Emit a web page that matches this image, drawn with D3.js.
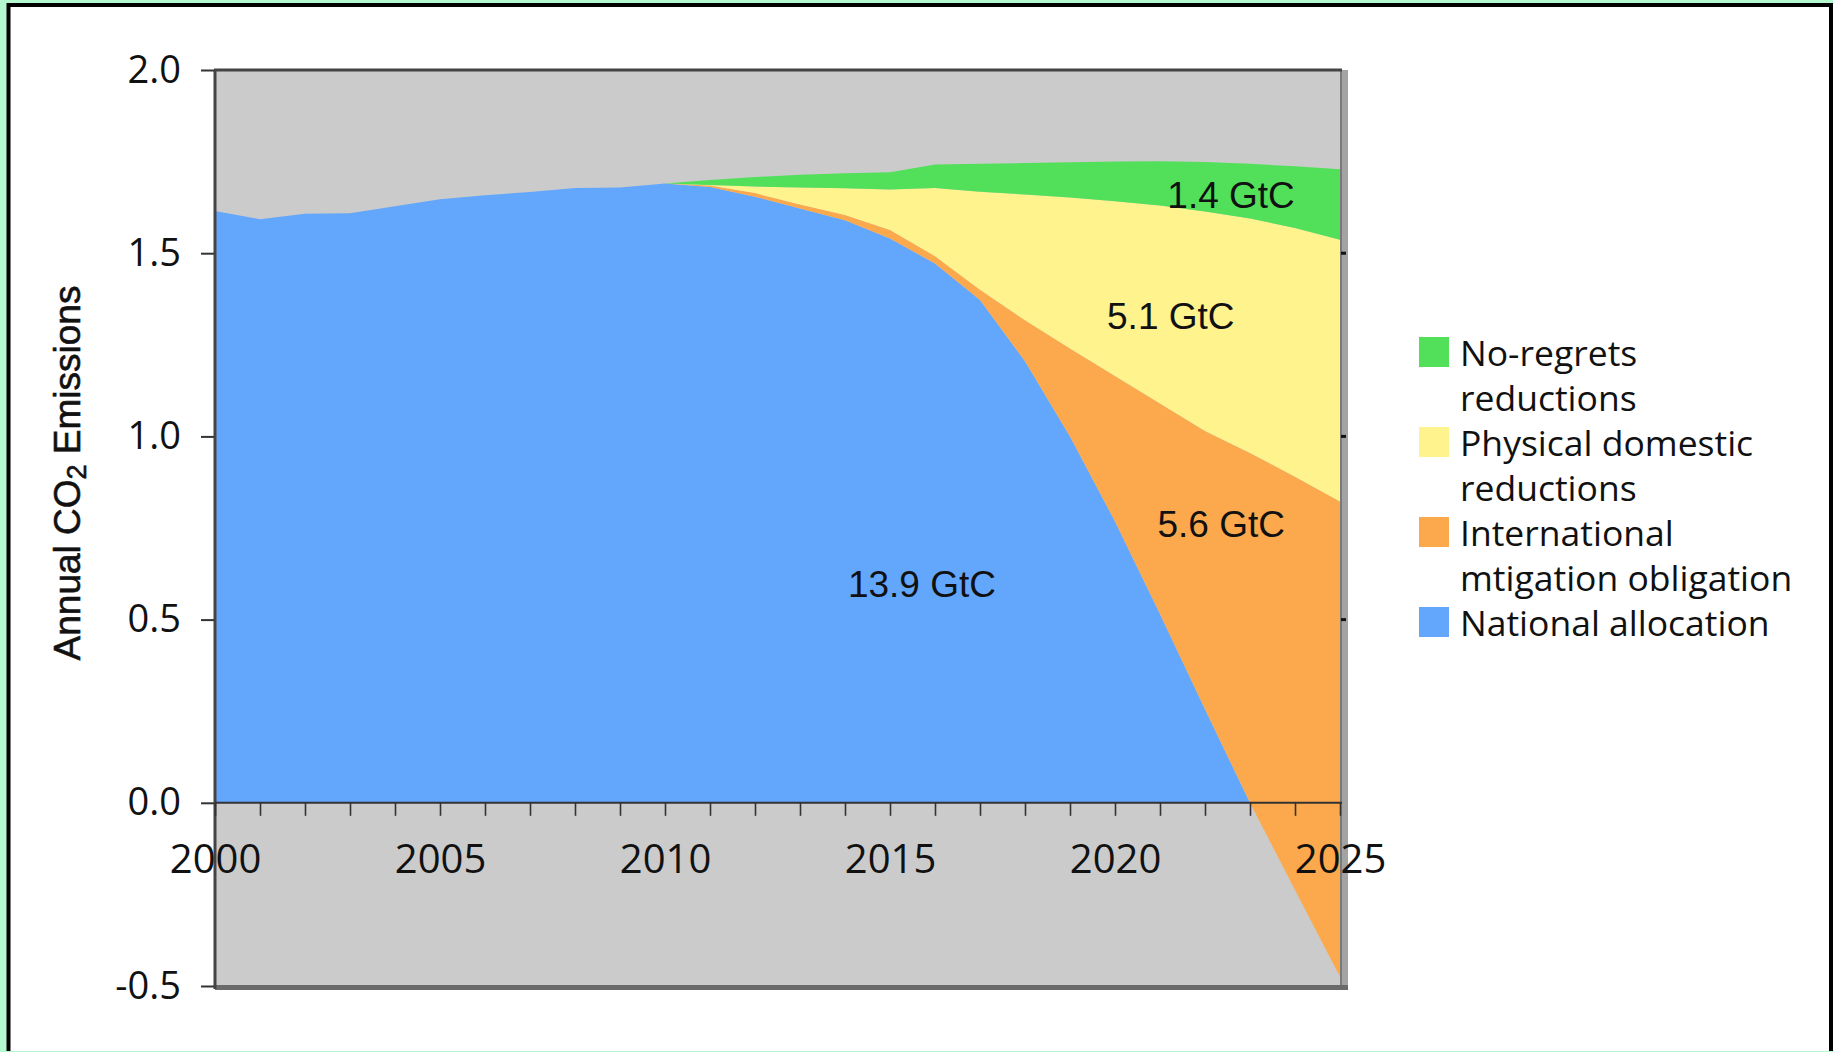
<!DOCTYPE html>
<html>
<head>
<meta charset="utf-8">
<script src="https://cdn.jsdelivr.net/npm/d3@7"></script>
<style>
  html, body { margin: 0; padding: 0; background: #b4f8d0; }
  #chart { width: 1833px; height: 1052px; }
</style>
</head>
<body>
<div id="chart"></div>
<script>
// Years on the x axis
const years = d3.range(2000, 2026);

// National allocation (GtC/yr) - goes negative after 2023
const national = [1.615, 1.593, 1.608, 1.609, 1.628, 1.647, 1.658, 1.667, 1.678, 1.679,
                  1.690, 1.681, 1.654, 1.622, 1.590, 1.540, 1.472, 1.372, 1.205, 1.000,
                  0.768, 0.515, 0.255, 0.000, -0.238, -0.475];

// International mitigation obligation (band above national)
const international = [0, 0, 0, 0, 0, 0, 0, 0, 0, 0,
                       0, 0.004, 0.010, 0.011, 0.014, 0.023, 0.020, 0.028, 0.112, 0.240,
                       0.397, 0.575, 0.760, 0.955, 1.128, 1.297];

// Physical domestic reductions
const physical = [0, 0, 0, 0, 0, 0, 0, 0, 0, 0,
                  0, 0.001, 0.018, 0.046, 0.073, 0.111, 0.186, 0.268, 0.343, 0.412,
                  0.477, 0.540, 0.599, 0.640, 0.679, 0.715];

// No-regrets reductions
const noRegrets = [0, 0, 0, 0, 0, 0, 0, 0, 0, 0,
                   0, 0.014, 0.026, 0.035, 0.041, 0.047, 0.064, 0.076, 0.086, 0.096,
                   0.108, 0.121, 0.135, 0.149, 0.168, 0.192];

const yTicks = [-0.5, 0.0, 0.5, 1.0, 1.5, 2.0];

const legendItems = [
    { lines: ["No-regrets", "reductions"], color: "#52e05a" },
    { lines: ["Physical domestic", "reductions"], color: "#fff38d" },
    { lines: ["International", "mtigation obligation"], color: "#fba94c" },
    { lines: ["National allocation"], color: "#63a7fd" }
];

const bandLabels = [
    { text: "1.4 GtC", year: 2022.58, value: 1.623 },
    { text: "5.1 GtC", year: 2021.24, value: 1.293 },
    { text: "5.6 GtC", year: 2022.36, value: 0.726 },
    { text: "13.9 GtC", year: 2015.71, value: 0.562 }
];

function drawChart() {
    const width = 1833, height = 1052;

    const colors = {
        plotBg: "#cbcbcb",
        national: "#63a7fd",
        international: "#fba94c",
        physical: "#fff38d",
        noRegrets: "#52e05a",
        axis: "#333"
    };

    const svg = d3.select("#chart").append("svg")
        .attr("width", width)
        .attr("height", height)
        .attr("viewBox", `0 0 ${width} ${height}`);

    // Outer frame: mint background, white panel with black edges
    svg.append("rect")
        .attr("width", width).attr("height", height)
        .style("fill", "#b4f8d0");
    svg.append("rect")
        .attr("x", 9).attr("y", 5)
        .attr("width", width - 9).attr("height", height - 6)
        .style("fill", "#fff");
    svg.append("path")
        .attr("d", `M8.5,${height - 1}V5H${width - 2}V${height - 1}`)
        .style("fill", "none")
        .style("stroke", "#000")
        .style("stroke-width", 4);

    const x = d3.scaleLinear().domain([2000, 2025]).range([215, 1340]);
    const y = d3.scaleLinear().domain([-0.5, 2.0]).range([986, 70]);

    // stacked tops
    const rows = years.map((yr, i) => {
        const nat = national[i];
        const t1 = nat + international[i];
        const t2 = t1 + physical[i];
        const t3 = t2 + noRegrets[i];
        return { year: yr, nat, t1, t2, t3 };
    });

    const plot = svg.append("g");

    plot.append("rect")
        .attr("x", x(2000)).attr("y", y(2.0))
        .attr("width", x(2025) - x(2000))
        .attr("height", y(-0.5) - y(2.0))
        .style("fill", colors.plotBg);

    const area = (lo, hi) => d3.area()
        .x(d => x(d.year))
        .y0(d => y(lo(d)))
        .y1(d => y(hi(d)));

    plot.append("path").datum(rows)
        .attr("d", area(() => 0, d => Math.max(0, d.nat)))
        .style("fill", colors.national);

    plot.append("path").datum(rows)
        .attr("d", area(d => d.nat, d => d.t1))
        .style("fill", colors.international);

    plot.append("path").datum(rows)
        .attr("d", area(d => d.t1, d => d.t2))
        .style("fill", colors.physical);

    plot.append("path").datum(rows)
        .attr("d", area(d => d.t2, d => d.t3))
        .style("fill", colors.noRegrets);

    // Plot border with a grey shadow on right / bottom
    plot.append("rect")
        .attr("x", x(2025)).attr("y", y(2.0))
        .attr("width", 8).attr("height", y(-0.5) - y(2.0) + 4)
        .style("fill", "#a3a3a3");
    plot.append("line")
        .attr("x1", x(2025) + 1).attr("x2", x(2025) + 1)
        .attr("y1", y(2.0)).attr("y2", y(-0.5))
        .style("stroke", "#7a7a7a").style("stroke-width", 2);
    plot.append("rect")
        .attr("x", x(2000)).attr("y", y(-0.5) - 1)
        .attr("width", x(2025) - x(2000) + 8).attr("height", 5)
        .style("fill", "#6a6a6a");
    plot.append("line")
        .attr("x1", x(2000) - 1).attr("x2", x(2025) + 2)
        .attr("y1", y(2.0)).attr("y2", y(2.0))
        .style("stroke", "#444").style("stroke-width", 3);
    plot.append("line")
        .attr("x1", x(2000)).attr("x2", x(2000))
        .attr("y1", y(2.0)).attr("y2", y(-0.5) + 3)
        .style("stroke", "#444").style("stroke-width", 3);

    // small marks on the right border
    plot.selectAll(".rmark")
        .data(yTicks.filter(v => v > 0 && v < 2))
        .enter().append("line")
        .attr("x1", x(2025) + 1).attr("x2", x(2025) + 6)
        .attr("y1", d => y(d)).attr("y2", d => y(d))
        .style("stroke", "#111").style("stroke-width", 3);

    // X axis at zero
    const xAxis = d3.axisBottom(x)
        .tickValues(years)
        .tickSize(13)
        .tickPadding(29)
        .tickFormat(d => d % 5 === 0 ? String(d) : "");

    const gx = svg.append("g")
        .attr("transform", `translate(0,${y(0)})`)
        .call(xAxis);
    gx.select(".domain").remove();
    gx.selectAll(".tick line").style("stroke", colors.axis).style("stroke-width", 1.6);
    gx.selectAll(".tick text")
        .style("font-family", "'Open Sans', sans-serif")
        .style("font-size", "40px")
        .style("fill", "#111");
    gx.append("line")
        .attr("x1", x(2000)).attr("x2", x(2025) + 2)
        .style("stroke", colors.axis).style("stroke-width", 2);

    // Y axis
    const yAxis = d3.axisLeft(y)
        .tickValues(yTicks)
        .tickSize(13)
        .tickPadding(20)
        .tickFormat(d => d.toFixed(1));

    const gy = svg.append("g")
        .attr("transform", `translate(${x(2000) - 1},0)`)
        .call(yAxis);
    gy.select(".domain").remove();
    gy.selectAll(".tick line").style("stroke", colors.axis).style("stroke-width", 2);
    gy.selectAll(".tick text")
        .style("font-family", "'Open Sans', sans-serif")
        .style("font-size", "38px")
        .style("fill", "#111");

    // Y axis title
    const title = svg.append("text")
        .attr("transform", "translate(80,473) rotate(-90)")
        .attr("text-anchor", "middle")
        .style("font-family", "'Liberation Sans', Arial, sans-serif")
        .style("font-size", "37px")
        .style("fill", "#111")
        .style("stroke", "#111")
        .style("stroke-width", 0.6);
    title.append("tspan").text("Annual CO");
    title.append("tspan").text("2")
        .style("font-size", "27px")
        .attr("dy", 6);
    title.append("tspan").text(" Emissions")
        .attr("dy", -6);

    // Band labels
    svg.append("g").selectAll("text")
        .data(bandLabels)
        .enter().append("text")
        .attr("x", d => x(d.year))
        .attr("y", d => y(d.value))
        .attr("text-anchor", "middle")
        .style("font-family", "'Liberation Sans', Arial, sans-serif")
        .style("font-size", "37px")
        .style("fill", "#111")
        .text(d => d.text);

    // Legend
    const legend = svg.append("g").attr("transform", "translate(1419,366)");
    let row = 0;
    legendItems.forEach(item => {
        const g = legend.append("g").attr("transform", `translate(0,${row * 45})`);
        g.append("rect")
            .attr("x", 0).attr("y", -29)
            .attr("width", 30).attr("height", 30)
            .style("fill", item.color);
        item.lines.forEach((ln, j) => {
            g.append("text")
                .attr("x", 41)
                .attr("y", j * 45)
                .style("font-family", "'Open Sans', sans-serif")
                .style("font-size", "35.5px")
                .style("fill", "#111")
                .text(ln);
        });
        row += 2;
    });
}

drawChart();
</script>
</body>
</html>
